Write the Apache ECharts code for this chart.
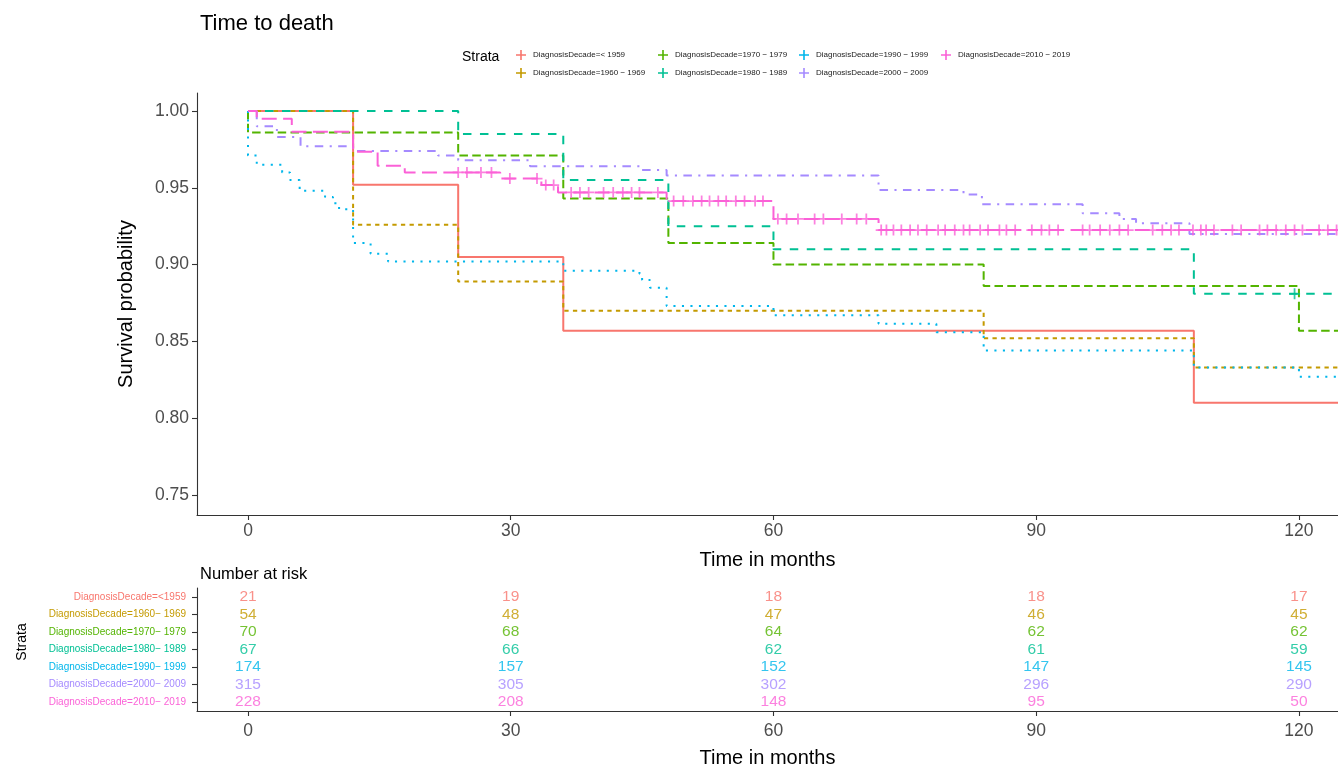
<!DOCTYPE html>
<html>
<head>
<meta charset="utf-8">
<script src="https://cdn.jsdelivr.net/npm/echarts@6/dist/echarts.min.js"></script>
<style>
html,body{margin:0;padding:0;background:#fff;}
#c{width:1338px;height:766px;}
</style>
</head>
<body>
<div id="c"></div>
<script>
// ---------- data ----------
const legendNames = ['DiagnosisDecade=< 1959','DiagnosisDecade=1960 − 1969','DiagnosisDecade=1970 − 1979','DiagnosisDecade=1980 − 1989','DiagnosisDecade=1990 − 1999','DiagnosisDecade=2000 − 2009','DiagnosisDecade=2010 − 2019'];
const riskNames = ['DiagnosisDecade=<1959','DiagnosisDecade=1960− 1969','DiagnosisDecade=1970− 1979','DiagnosisDecade=1980− 1989','DiagnosisDecade=1990− 1999','DiagnosisDecade=2000− 2009','DiagnosisDecade=2010− 2019'];
const colors = ['#F8766D','#C49A00','#53B400','#00C094','#00B6EB','#A58AFF','#FB61D7'];

// Kaplan-Meier step data (time in months, survival probability)
const time1 = [0,12,24,36,108,130];
const surv1 = [1,0.952,0.905,0.857,0.810,0.810];
const time2 = [0,12,24,36,84,108,130];
const surv2 = [1,0.926,0.889,0.870,0.852,0.833,0.833];
const time3 = [0,0,24,36,48,60,84,120,130];
const surv3 = [1,0.986,0.971,0.943,0.914,0.900,0.886,0.857,0.857];
const time4 = [0,24,36,48,60,108,130];
const surv4 = [1,0.985,0.955,0.925,0.910,0.881,0.881];
const time5 = [0,0,1.0,3.9,4.8,5.9,8.8,9.7,10.4,12,14,16,36,44.7,45.0,45.9,47.8,60,72,78.6,84,108,120,130];
const surv5 = [1,0.971,0.965,0.960,0.955,0.948,0.944,0.940,0.936,0.914,0.907,0.902,0.896,0.894,0.890,0.885,0.873,0.867,0.8615,0.856,0.844,0.833,0.827,0.827];
const time6 = [0,1.0,3.3,6.0,12,21.7,24,32.2,44.7,47.8,72,81.7,83.8,95.3,99.5,101.4,107.5,130];
const surv6 = [1,0.990,0.983,0.977,0.974,0.971,0.968,0.964,0.9616,0.958,0.9486,0.9457,0.9393,0.9334,0.9297,0.9269,0.920,0.920];
const time7 = [0,1.0,5.0,12,14.8,17.9,28.8,33.5,35.4,47.8,60,72,130];
const surv7 = [1,0.995,0.9865,0.9735,0.9644,0.960,0.956,0.9518,0.947,0.9414,0.9297,0.9225,0.9225];

// censoring times
const cens4 = [119.5];
const cens7 = [24,25,26.6,27.8,29.9,33.0,34.0,34.9,36.9,37.9,38.9,40.6,41.7,42.8,43.8,44.7,46.8,48.6,49.7,50.8,51.8,52.7,53.7,54.6,55.7,56.7,57.9,58.8,60.5,61.5,62.8,64.7,65.7,67.8,69.5,70.6,72.3,72.9,73.7,74.6,75.6,76.5,77.5,78.8,79.6,80.7,81.7,82.4,83.6,84.5,85.8,86.6,87.6,89.5,90.6,91.5,92.5,95.3,96.1,97.3,98.4,99.5,100.5,103.3,104.4,105.4,106.3,107.9,108.8,109.4,110.3,112.4,113.4,115.5,116.4,117.4,118.5,119.5,120.4,122.3,123.3,124.3];

// number at risk
const riskTimes = [0,30,60,90,120];
const risk1 = [21,19,18,18,17];
const risk2 = [54,48,47,46,45];
const risk3 = [70,68,64,62,62];
const risk4 = [67,66,62,61,59];
const risk5 = [174,157,152,147,145];
const risk6 = [315,305,302,296,290];
const risk7 = [228,208,148,95,50];

const xTicks = [0,30,60,90,120];
const yTicks = [0.75,0.80,0.85,0.90,0.95,1.00];

// ---------- build ----------
const times = [time1,time2,time3,time4,time5,time6,time7];
const survs = [surv1,surv2,surv3,surv4,surv5,surv6,surv7];
const censs = [[],[],[],cens4,[],[],cens7];
const risks = [risk1,risk2,risk3,risk4,risk5,risk6,risk7];
const dashes = ['solid',[4.3,4.3],[8.5,4.3],[8.5,8.5],[2.1,6.4],[2.1,6.4,8.5,6.4],[15,6.4]];

function survAt(ti, su, t){ let v = su[0]; for(let i=0;i<ti.length;i++){ if(ti[i]<=t) v=su[i]; } return v; }

const FONT = 'Liberation Sans, Arial, Helvetica, sans-serif';
const XMIN = -5.823, XMAX = 124.46, YMIN = 0.73698, YMAX = 1.01172;
const crossPath = 'path://M0,4.2h10v1.6h-10z M4.2,0h1.6v10h-1.6z';

const series = [];
for(let k=0;k<7;k++){
  series.push({
    name: legendNames[k], type:'line', step:'end', xAxisIndex:0, yAxisIndex:0,
    showSymbol:false, symbol:'none', clip:true, animation:false,
    data: times[k].map((t,i)=>[t, survs[k][i]]),
    lineStyle:{color:colors[k], width:2, type:dashes[k], cap:'butt'},
    itemStyle:{color:colors[k]}, z:2+k
  });
}
for(let k=0;k<7;k++){
  if(!censs[k].length) continue;
  series.push({
    name: legendNames[k], type:'scatter', xAxisIndex:0, yAxisIndex:0, clip:true, animation:false,
    symbol: crossPath, symbolSize:[11,11],
    data: censs[k].map(t=>[t, survAt(times[k], survs[k], t)]),
    itemStyle:{color:colors[k]}, z:20
  });
}
for(let k=0;k<7;k++){
  series.push({
    name: 'risk'+k, type:'scatter', xAxisIndex:1, yAxisIndex:1, animation:false,
    symbol:'circle', symbolSize:2, itemStyle:{color:'rgba(255,255,255,0)'},
    data: riskTimes.map((t,i)=>[t, riskNames[k], risks[k][i]]),
    label:{show:true, position:'inside', formatter:p=>String(p.value[2]), color:colors[k], fontSize:15.5, fontFamily:FONT},
    emphasis:{disabled:true}
  });
}

const rich = {};
colors.forEach((c,i)=>{ rich['r'+i] = {color:c, fontSize:10, fontFamily:FONT}; });

const legendCols = [[0,1],[2,3],[4,5],[6]];
const legendLeft = [511, 653, 794, 936];
const legends = legendCols.map((idx,ci)=>({
  orient:'vertical', left:legendLeft[ci], top:45, itemGap:8,
  itemWidth:14, itemHeight:10, icon:crossPath,
  data: idx.map(i=>legendNames[i]),
  textStyle:{fontSize:8, fontFamily:FONT, color:'#1a1a1a'},
  selectedMode:false
}));

const axisLineStyle = {color:'#333', width:1.1};
const option = {
  backgroundColor:'#fff',
  animation:false,
  textStyle:{fontFamily:FONT},
  title:[
    {text:'Time to death', left:195, top:8, textStyle:{fontSize:22, fontWeight:'normal', color:'#000', fontFamily:FONT}},
    {text:'Number at risk', left:195, top:561, textStyle:{fontSize:16.5, fontWeight:'normal', color:'#000', fontFamily:FONT}}
  ],
  legend: legends,
  graphic:[
    {type:'text', left:462, top:50, style:{text:'Strata', fontSize:14, fill:'#000', fontFamily:FONT}},
    {type:'text', x:22, y:642, rotation:Math.PI/2, style:{text:'Strata', fontSize:14, fill:'#000', fontFamily:FONT, align:'center', verticalAlign:'middle'}}
  ],
  grid:[
    {left:197, right:0, top:93, bottom:251, containLabel:false, outerBoundsMode:'none'},
    {left:197, right:0, top:588, bottom:55, containLabel:false, outerBoundsMode:'none'}
  ],
  xAxis:[
    {type:'value', gridIndex:0, min:XMIN, max:XMAX,
     axisLine:{show:true, lineStyle:axisLineStyle, onZero:false},
     axisTick:{show:true, length:5, lineStyle:axisLineStyle, customValues:xTicks},
     axisLabel:{color:'#4d4d4d', fontSize:17.5, margin:7, customValues:xTicks, fontFamily:FONT},
     splitLine:{show:false},
     name:'Time in months', nameLocation:'middle', nameGap:35,
     nameTextStyle:{fontSize:20, color:'#000', fontFamily:FONT}},
    {type:'value', gridIndex:1, min:XMIN, max:XMAX,
     axisLine:{show:true, lineStyle:axisLineStyle, onZero:false},
     axisTick:{show:true, length:5, lineStyle:axisLineStyle, customValues:xTicks},
     axisLabel:{color:'#4d4d4d', fontSize:17.5, margin:11, customValues:xTicks, fontFamily:FONT},
     splitLine:{show:false},
     name:'Time in months', nameLocation:'middle', nameGap:37,
     nameTextStyle:{fontSize:20, color:'#000', fontFamily:FONT}}
  ],
  yAxis:[
    {type:'value', gridIndex:0, min:YMIN, max:YMAX,
     axisLine:{show:true, lineStyle:axisLineStyle, onZero:false},
     axisTick:{show:true, length:5, lineStyle:axisLineStyle, customValues:yTicks},
     axisLabel:{color:'#4d4d4d', fontSize:17.5, margin:8, customValues:yTicks, formatter:v=>Number(v).toFixed(2), fontFamily:FONT},
     splitLine:{show:false},
     name:'Survival probability', nameLocation:'middle', nameGap:61, nameRotate:90,
     nameTextStyle:{fontSize:20, color:'#000', fontFamily:FONT}},
    {type:'category', gridIndex:1, inverse:true, data:riskNames,
     axisLine:{show:true, lineStyle:axisLineStyle, onZero:false},
     axisTick:{show:true, length:5, alignWithLabel:true, lineStyle:axisLineStyle},
     axisLabel:{margin:11, formatter:(v,i)=>'{r'+i+'|'+v+'}', rich:rich},
     splitLine:{show:false}}
  ],
  series: series
};
const chart = echarts.init(document.getElementById('c'), null, {renderer:'canvas'});
chart.setOption(option);
</script>
</body>
</html>
